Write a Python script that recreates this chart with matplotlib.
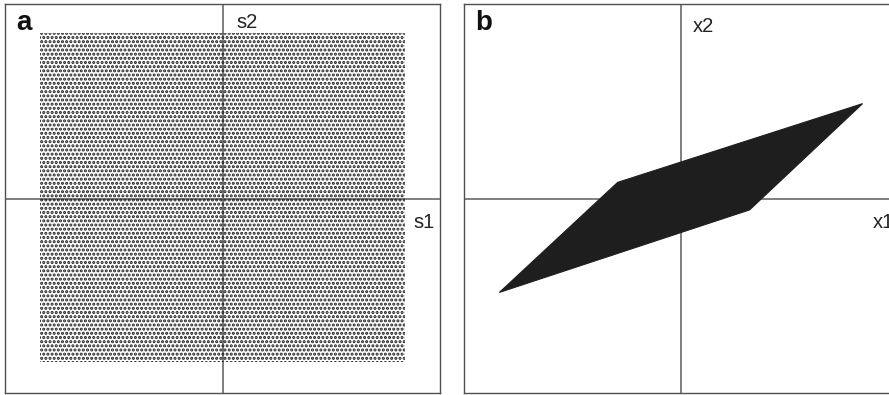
import matplotlib
matplotlib.use("Agg")
import matplotlib.pyplot as plt
from matplotlib.patches import Polygon

# ===================== DATA =====================
# panel a: uniform sources s1, s2 fill a square
SQUARE_S1 = [-1.73, 1.73, 1.73, -1.73]
SQUARE_S2 = [-1.72, -1.72, 1.74, 1.74]

# panel b: mixed signals x1, x2 fill a parallelogram
PARA_X1 = [-1.72, -0.60, 1.72, 0.65]
PARA_X2 = [-0.99, 0.17, 1.00, -0.12]

LIM_X = 2.06
LIM_Y = 2.05

PANELS = ["a", "b"]

DOT_COLOR = "#1e1e1e"
LINE_COLOR = "#6a6a6a"
FRAME_COLOR = "#505050"

plt.rcParams["font.family"] = ["Liberation Sans", "DejaVu Sans"]
plt.rcParams["hatch.linewidth"] = 1.5

W, H = 889, 395
fig = plt.figure(figsize=(W / 100, H / 100), dpi=100)

# axes boxes in pixels (left, top, right, bottom)
boxes = [(5, 4, 440, 393), (463.5, 4, 898.5, 393)]
axes = []
for (l, t, r, b) in boxes:
    ax = fig.add_axes([l / W, (H - b) / H, (r - l) / W, (b - t) / H])
    ax.set_xlim(-LIM_X, LIM_X)
    ax.set_ylim(-LIM_Y, LIM_Y)
    ax.set_xticks([])
    ax.set_yticks([])
    for sp in ax.spines.values():
        sp.set_color(FRAME_COLOR)
        sp.set_linewidth(1.0)
    ax.axhline(0, color=LINE_COLOR, linewidth=1.2, zorder=1)
    ax.axvline(0, color=LINE_COLOR, linewidth=1.2, zorder=1)
    axes.append(ax)

# ===================== PANEL A: square of dots =====================
ax1 = axes[0]
sq = Polygon(list(zip(SQUARE_S1, SQUARE_S2)), closed=True,
             facecolor="none", edgecolor=DOT_COLOR, linewidth=0,
             hatch="....", zorder=2)
ax1.add_patch(sq)

# ===================== PANEL B: parallelogram =====================
ax2 = axes[1]
para = Polygon(list(zip(PARA_X1, PARA_X2)), closed=True,
               facecolor=DOT_COLOR, edgecolor=DOT_COLOR, linewidth=0.8,
               zorder=2)
ax2.add_patch(para)

# ===================== LABELS =====================
for ax, letter in zip(axes, PANELS):
    ax.text(0.026, 0.933, letter, transform=ax.transAxes, fontsize=20,
            fontweight="bold", va="baseline", ha="left", color="#111111")

ax1.text(0.531, 0.938, "s2", transform=ax1.transAxes, fontsize=14.5,
         va="baseline", ha="left", color="#222222")
ax1.text(0.938, 0.424, "s1", transform=ax1.transAxes, fontsize=14.5,
         va="baseline", ha="left", color="#222222")
ax2.text(0.527, 0.929, "x2", transform=ax2.transAxes, fontsize=14.5,
         va="baseline", ha="left", color="#222222")
ax2.text(0.940, 0.424, "x1", transform=ax2.transAxes, fontsize=14.5,
         va="baseline", ha="left", color="#222222")

plt.savefig("out.png", dpi=100)
